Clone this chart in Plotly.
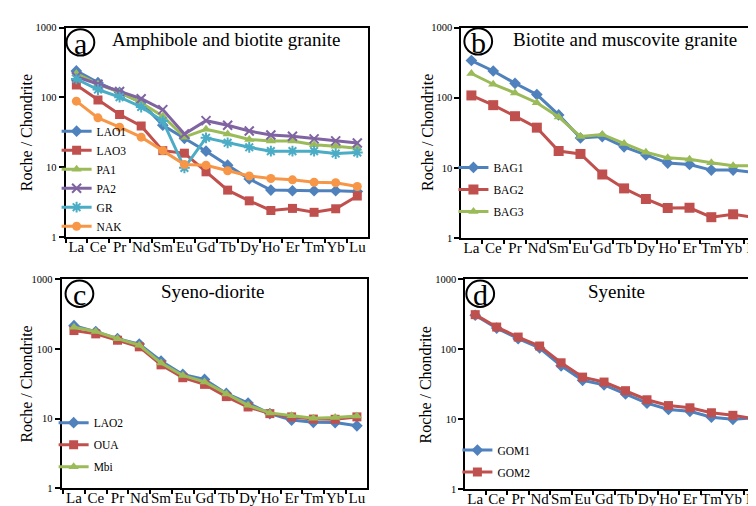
import plotly.graph_objects as go

ree = ["La", "Ce", "Pr", "Nd", "Sm", "Eu", "Gd", "Tb", "Dy", "Ho", "Er", "Tm", "Yb", "Lu"]
y_tick_vals = [1, 10, 100, 1000]
y_tick_text = ["1", "10", "100", "1000"]

# Panel a: amphibole and biotite granite
LAO1 = [240, 163, 118, 85, 40, 26, 17, 10.7, 6.8, 4.7, 4.6, 4.6, 4.6, 4.5]
LAO3 = [151, 92, 57, 39, 17.3, 15.9, 8.6, 4.7, 3.3, 2.4, 2.57, 2.26, 2.54, 3.87]
PA1 = [220, 155, 118, 84, 54, 27, 35, 30, 25, 23.7, 23.7, 21, 20, 18.7]
PA2 = [198, 155, 122, 96, 67, 30, 46.5, 40, 33, 29, 27.8, 25.5, 23.9, 22.2]
GR = [184, 130, 101, 73, 46, 9.8, 26.4, 22.4, 19.3, 17, 17, 17, 15.7, 16.3]
NAK = [88.5, 51, 37.5, 27, 17.3, 10.9, 10.7, 8.9, 7.5, 6.9, 6.6, 6.1, 6.0, 5.3]

# Panel b: biotite and muscovite granite
BAG1 = [340, 241, 161, 111, 57, 26.7, 28, 20, 15.3, 11.7, 11.2, 9.3, 9.3, 8.6]
BAG2 = [108, 78.5, 54.6, 37.5, 17.4, 15.8, 8.05, 5.1, 3.6, 2.68, 2.7, 1.98, 2.18, 1.96]
BAG3 = [222, 156, 117, 85, 53.4, 28, 30, 22.2, 16.7, 13.9, 13.3, 11.8, 10.7, 10.7]

# Panel c: syeno-diorite
LAO2 = [215, 177, 140, 117, 67, 43, 36.5, 23, 16.7, 11.8, 9.55, 8.85, 8.8, 7.9]
OUA = [183, 164, 133, 107, 59, 38.6, 31, 20.7, 14.7, 11.8, 10.6, 9.86, 9.8, 10.6]
Mbi = [204, 177, 140, 113, 62.5, 41.6, 33.6, 22.5, 15.5, 12.1, 11.0, 10.1, 10.4, 10.9]

# Panel d: syenite
GOM1 = [305, 200, 141, 104, 58, 36, 31, 23, 17, 13.8, 13, 10.7, 10, 10.5]
GOM2 = [311, 207, 149, 111, 64, 40, 34, 25.6, 19, 15.7, 14.6, 12.4, 11.4, 10.2]

BLUE, RED, GREEN, PURPLE, TEAL, ORANGE = "#4F81BD", "#C0504D", "#9BBB59", "#8064A2", "#4BACC6", "#F79646"
FONT = "Liberation Serif"

fig = go.Figure()


def add(name, y, color, symbol, panel, legend, size=9, open_marker=False):
    marker = dict(symbol=symbol, size=size, color=color)
    if open_marker:
        marker["line"] = dict(width=2, color=color)
    fig.add_trace(go.Scatter(
        x=ree, y=y, name=name, mode="lines+markers",
        line=dict(color=color, width=3), marker=marker,
        xaxis="x" + ("" if panel == 1 else str(panel)),
        yaxis="y" + ("" if panel == 1 else str(panel)),
        legend=legend, legendgroup=name, cliponaxis=False,
    ))


add("LAO1", LAO1, BLUE, "diamond", 1, "legend")
add("LAO3", LAO3, RED, "square", 1, "legend")
add("PA1", PA1, GREEN, "triangle-up", 1, "legend")
add("PA2", PA2, PURPLE, "x-thin-open", 1, "legend", open_marker=True)
add("GR", GR, TEAL, "asterisk-open", 1, "legend", open_marker=True)
add("NAK", NAK, ORANGE, "circle", 1, "legend")

add("BAG1", BAG1, BLUE, "diamond", 2, "legend2")
add("BAG2", BAG2, RED, "square", 2, "legend2", size=10)
add("BAG3", BAG3, GREEN, "triangle-up", 2, "legend2")

add("LAO2", LAO2, BLUE, "diamond", 3, "legend3")
add("OUA", OUA, RED, "square", 3, "legend3")
add("Mbi", Mbi, GREEN, "triangle-up", 3, "legend3")

add("GOM1", GOM1, BLUE, "diamond", 4, "legend4")
add("GOM2", GOM2, RED, "square", 4, "legend4")

W, H = 756, 506


def px(x):
    return x / W


def py(y):
    return 1 - y / H


panels = {
    1: dict(xd=[px(58), px(363)], yd=[py(229), py(15)], xr=[-0.5, 13.5], mirror=True),
    2: dict(xd=[px(457), 1.0], yd=[py(230), py(15)], xr=[-0.46, 13.14], mirror=False),
    3: dict(xd=[px(54), px(362)], yd=[py(486), py(272)], xr=[-0.57, 13.47], mirror=True),
    4: dict(xd=[px(461), 1.0], yd=[py(487), py(272)], xr=[-0.46, 13.17], mirror=False),
}

layout = dict(
    width=W, height=H, autosize=False,
    margin=dict(l=0, r=0, t=0, b=0),
    paper_bgcolor="white", plot_bgcolor="white",
    font=dict(family=FONT, color="black"),
)

for i, p in panels.items():
    sx = "" if i == 1 else str(i)
    layout["xaxis" + sx] = dict(
        domain=p["xd"], anchor="y" + sx, type="category",
        categoryorder="array", categoryarray=ree,
        range=p["xr"], showgrid=False, zeroline=False,
        showline=True, linecolor="black", linewidth=2, mirror=True,
        ticks="outside", tickson="boundaries", ticklen=4, tickwidth=1.5, tickcolor="black",
        tickangle=0, ticklabelstandoff=-5, ticklabeloverflow="allow",
        tickfont=dict(family=FONT, size=15, color="black"),
    )
    layout["yaxis" + sx] = dict(
        domain=p["yd"], anchor="x" + sx, type="log", range=[0, 3],
        showgrid=False, zeroline=False,
        showline=True, linecolor="black", linewidth=2, mirror=p["mirror"],
        ticks="outside", ticklen=5, tickwidth=1.5, tickcolor="black",
        tickvals=y_tick_vals, ticktext=y_tick_text,
        tickfont=dict(family=FONT, size=10.5, color="black"),
    )

leg_common = dict(bgcolor="rgba(0,0,0,0)", borderwidth=0, itemwidth=30,
                  font=dict(family=FONT, size=11.5, color="black"),
                  xanchor="left", yanchor="top", tracegroupgap=0)
layout["legend"] = dict(leg_common, x=px(49), y=py(106))
layout["legend2"] = dict(leg_common, x=px(449), y=py(143), tracegroupgap=3)
layout["legend3"] = dict(leg_common, x=px(46), y=py(404), tracegroupgap=3)
layout["legend4"] = dict(leg_common, x=px(453), y=py(432), tracegroupgap=3)

fig.update_layout(**layout)

# y-axis titles
ytitles = [(18, 122), (423, 122), (19, 379), (421, 380)]
for x, y in ytitles:
    fig.add_annotation(text="Roche / Chondrite", x=px(x), y=py(y), xref="paper", yref="paper",
                       showarrow=False, textangle=-90,
                       font=dict(family=FONT, size=16, color="black"),
                       xanchor="center", yanchor="middle")

titles = [
    ("Amphibole and biotite granite", 220, 27),
    ("Biotite and muscovite granite", 622, 27),
    ("Syeno-diorite", 206, 285),
    ("Syenite", 613, 285),
]
for text, x, y in titles:
    fig.add_annotation(text=text, x=px(x), y=py(y), xref="paper", yref="paper",
                       showarrow=False, font=dict(family=FONT, size=19, color="black"),
                       xanchor="center", yanchor="middle")

circles = [("a", 73, 30), ("b", 474, 29), ("c", 72, 287), ("d", 476, 287)]
for letter, cx, cy in circles:
    fig.add_shape(type="circle", xref="paper", yref="paper",
                  x0=px(cx - 14), x1=px(cx + 14), y0=py(cy + 13.5), y1=py(cy - 13.5),
                  line=dict(color="black", width=2), fillcolor="rgba(0,0,0,0)")
    fig.add_annotation(text=letter, x=px(cx), y=py(cy + 1), xref="paper", yref="paper",
                       showarrow=False, font=dict(family=FONT, size=30, color="black"),
                       xanchor="center", yanchor="middle")

fig.write_html("out.html")
